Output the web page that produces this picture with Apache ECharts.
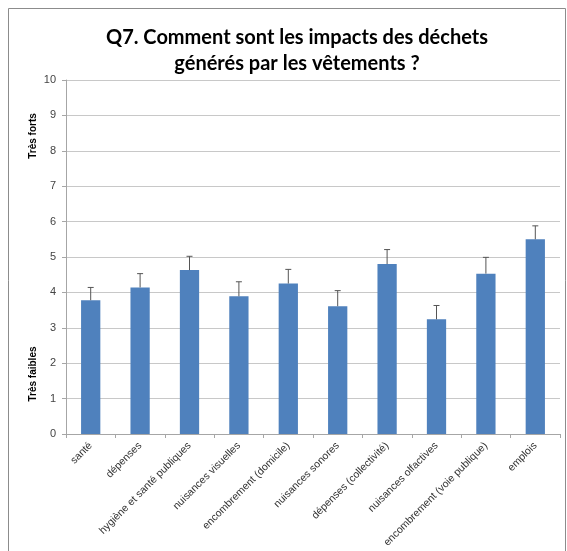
<!DOCTYPE html>
<html>
<head>
<meta charset="utf-8">
<script src="https://cdn.jsdelivr.net/npm/echarts@6/dist/echarts.min.js"></script>
<style>
html,body{margin:0;padding:0;background:#fff;}
#c{width:567px;height:551px;}
</style>
</head>
<body>
<div id="c"></div>
<script>
const categories = ["santé","dépenses","hygiène et santé publiques","nuisances visuelles","encombrement (domicile)","nuisances sonores","dépenses (collectivité)","nuisances olfactives","encombrement (voie publique)","emplois"];
const means = [3.78, 4.14, 4.63, 3.89, 4.25, 3.61, 4.80, 3.24, 4.53, 5.50];
const errorTops = [4.14, 4.53, 5.02, 4.30, 4.65, 4.05, 5.21, 3.63, 4.99, 5.88];
const yTicks = [0,1,2,3,4,5,6,7,8,9,10];
const titleText = "Q7. Comment sont les impacts des déchets\ngénérés par les vêtements ?";

const chart = echarts.init(document.getElementById('c'), null, {renderer:'canvas'});
const errData = categories.map((c,i)=>[i, means[i], errorTops[i]]);
chart.setOption({
  animation:false,
  backgroundColor:'#fff',
  title:{
    text:titleText,
    left:292, top:20, textAlign:'center',
    textStyle:{fontFamily:'Lato', fontWeight:'bold', fontSize:20, color:'#000', lineHeight:26}
  },
  graphic:[
    {type:'rect', shape:{x:8.5,y:8.5,width:557,height:600}, style:{fill:'none', stroke:'#8c8c8c', lineWidth:1}, silent:true},
    {type:'text', rotation:Math.PI/2, x:33, y:136, style:{text:'Très forts', font:'bold 10px "Liberation Sans"', fill:'#000', align:'center', verticalAlign:'middle'}},
    {type:'text', rotation:Math.PI/2, x:33, y:374, style:{text:'Très faibles', font:'bold 10px "Liberation Sans"', fill:'#000', align:'center', verticalAlign:'middle'}}
  ],
  grid:{left:66, right:7, top:80, bottom:117, containLabel:false},
  xAxis:{
    type:'category', data:categories,
    axisLine:{lineStyle:{color:'#a6a6a6'}},
    axisTick:{show:true, length:4, lineStyle:{color:'#a6a6a6'}},
    axisLabel:{rotate:45, interval:0, margin:10, fontSize:10.5, color:'#333', fontFamily:'Liberation Sans'}
  },
  yAxis:{
    type:'value', min:0, max:10, interval:1,
    axisLine:{show:true, lineStyle:{color:'#a6a6a6'}},
    axisTick:{show:true, length:4, lineStyle:{color:'#a6a6a6'}},
    axisLabel:{fontSize:11, color:'#444', margin:10, fontFamily:'Liberation Sans',
      formatter:(v)=> yTicks.includes(v) ? String(v) : ''},
    splitLine:{lineStyle:{color:'#c8c8c8'}}
  },
  series:[
    {type:'bar', data:means, barWidth:'39%', itemStyle:{color:'#4F81BD'}},
    {type:'custom', data:errData, z:3,
      renderItem:function(params, api){
        const x = api.value(0);
        const p0 = api.coord([x, api.value(1)]);
        const p1 = api.coord([x, api.value(2)]);
        const cap = 3;
        return {type:'group', children:[
          {type:'line', shape:{x1:p0[0], y1:p0[1], x2:p1[0], y2:p1[1]}, style:{stroke:'#555', lineWidth:1}},
          {type:'line', shape:{x1:p1[0]-cap, y1:p1[1], x2:p1[0]+cap, y2:p1[1]}, style:{stroke:'#555', lineWidth:1}}
        ]};
      }
    }
  ]
});
</script>
</body>
</html>
